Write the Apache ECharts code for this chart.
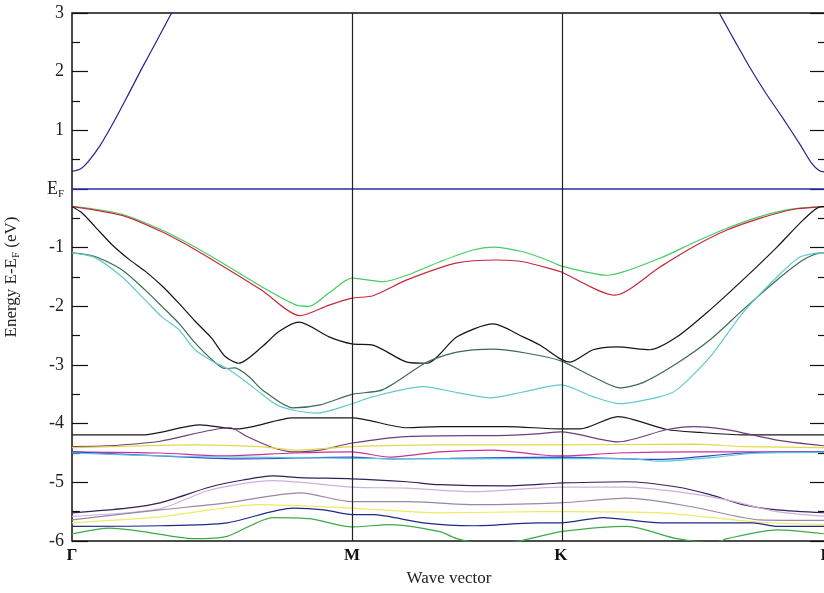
<!DOCTYPE html>
<html>
<head>
<meta charset="utf-8">
<script src="https://cdn.jsdelivr.net/npm/echarts@6/dist/echarts.min.js"></script>
<style>
  html, body { margin: 0; padding: 0; background: #fff; }
  #chart { width: 824px; height: 593px; }
</style>
</head>
<body>
<div id="chart"></div>
<script>
// High-symmetry points along the k-path (path length, Γ–M = 1)
const kPoints = [0, 1, 1.746, 2.693];
const kLabels = ['Γ', 'M', 'K', 'Γ'];

// Energy ticks (eV, relative to the Fermi level)
const energyTicks = [-6, -5, -4, -3, -2, -1, 0, 1, 2, 3];

// Fermi level
const fermi = [[0, 0], [2.693, 0]];

// Conduction band (two branches leaving the plotted window)
const condLeft = [[0, 0.30], [0.03, 0.34], [0.06, 0.48], [0.1, 0.74], [0.15, 1.15], [0.2, 1.6], [0.25, 2.06], [0.3, 2.5], [0.35, 2.95], [0.38, 3.2]];
const condRight = [[2.29, 3.2], [2.32, 2.93], [2.37, 2.5], [2.42, 2.08], [2.48, 1.62], [2.54, 1.2], [2.6, 0.76], [2.64, 0.45], [2.67, 0.31], [2.693, 0.29]];

// Upper valence bands
const vbGreen = [[0, -0.29], [0.179, -0.43], [0.321, -0.70], [0.439, -0.99], [0.561, -1.33], [0.679, -1.67], [0.796, -1.97], [0.846, -2.0], [0.918, -1.77], [1.0, -1.52], [1.111, -1.58], [1.196, -1.47], [1.314, -1.24], [1.432, -1.04], [1.504, -0.99], [1.611, -1.07], [1.696, -1.21], [1.746, -1.31], [1.911, -1.47], [2.1, -1.18], [2.218, -0.92], [2.339, -0.67], [2.457, -0.47], [2.575, -0.34], [2.693, -0.30]];
const vbRed = [[0, -0.30], [0.179, -0.45], [0.321, -0.73], [0.439, -1.03], [0.561, -1.38], [0.679, -1.73], [0.814, -2.16], [0.918, -1.98], [1.0, -1.86], [1.075, -1.82], [1.196, -1.55], [1.375, -1.26], [1.518, -1.21], [1.611, -1.24], [1.732, -1.39], [1.746, -1.41], [1.939, -1.81], [2.1, -1.33], [2.218, -0.99], [2.339, -0.70], [2.457, -0.50], [2.575, -0.35], [2.693, -0.30]];
const vbBlack = [[0, -0.30], [0.036, -0.41], [0.082, -0.64], [0.143, -0.95], [0.204, -1.2], [0.261, -1.4], [0.321, -1.65], [0.382, -1.95], [0.439, -2.25], [0.5, -2.55], [0.546, -2.85], [0.596, -2.97], [0.679, -2.69], [0.739, -2.43], [0.811, -2.27], [0.918, -2.52], [1.0, -2.64], [1.075, -2.66], [1.196, -2.95], [1.268, -2.97], [1.375, -2.52], [1.504, -2.30], [1.611, -2.52], [1.671, -2.66], [1.746, -2.90], [1.779, -2.95], [1.861, -2.74], [1.946, -2.69], [2.064, -2.74], [2.161, -2.52], [2.279, -2.06], [2.396, -1.55], [2.518, -0.99], [2.611, -0.53], [2.675, -0.30], [2.693, -0.30]];
const vbDarkGreen = [[0, -1.09], [0.082, -1.15], [0.179, -1.38], [0.261, -1.72], [0.321, -2.0], [0.382, -2.29], [0.439, -2.62], [0.5, -2.91], [0.546, -3.06], [0.582, -3.05], [0.632, -3.2], [0.679, -3.42], [0.789, -3.73], [0.886, -3.68], [1.0, -3.50], [1.111, -3.42], [1.268, -2.95], [1.375, -2.78], [1.504, -2.73], [1.625, -2.80], [1.746, -2.93], [1.861, -3.2], [1.957, -3.39], [2.039, -3.3], [2.161, -2.97], [2.279, -2.57], [2.396, -2.06], [2.518, -1.55], [2.611, -1.21], [2.675, -1.09], [2.693, -1.09]];
const vbCyan = [[0, -1.09], [0.082, -1.17], [0.179, -1.5], [0.261, -1.89], [0.321, -2.18], [0.382, -2.4], [0.439, -2.74], [0.5, -2.93], [0.561, -3.08], [0.625, -3.3], [0.679, -3.5], [0.732, -3.68], [0.8, -3.78], [0.875, -3.82], [1.0, -3.66], [1.075, -3.54], [1.254, -3.37], [1.375, -3.47], [1.493, -3.56], [1.611, -3.46], [1.746, -3.34], [1.861, -3.54], [1.957, -3.66], [2.1, -3.54], [2.161, -3.42], [2.279, -2.86], [2.396, -2.11], [2.518, -1.5], [2.6, -1.16], [2.675, -1.09], [2.693, -1.09]];

// Flat band group around -4.4 eV
const fbBlack = [[0, -4.19], [0.254, -4.19], [0.457, -4.02], [0.589, -4.09], [0.646, -4.05], [0.789, -3.90], [1.0, -3.90], [1.196, -4.07], [1.314, -4.05], [1.554, -4.05], [1.746, -4.09], [1.814, -4.09], [1.95, -3.88], [2.125, -4.10], [2.243, -4.15], [2.396, -4.19], [2.693, -4.19]];
const fbPurple = [[0, -4.39], [0.125, -4.38], [0.314, -4.30], [0.564, -4.07], [0.625, -4.22], [0.718, -4.41], [0.789, -4.48], [0.886, -4.45], [1.0, -4.33], [1.196, -4.22], [1.554, -4.20], [1.671, -4.17], [1.746, -4.14], [1.95, -4.31], [2.125, -4.10], [2.218, -4.05], [2.339, -4.10], [2.518, -4.28], [2.693, -4.38]];
const fbYellow = [[0, -4.41], [0.432, -4.36], [0.671, -4.39], [0.8, -4.45], [1.0, -4.39], [1.3, -4.36], [1.746, -4.36], [2.218, -4.35], [2.4, -4.39], [2.693, -4.41]];
const fbMagenta = [[0, -4.48], [0.314, -4.50], [0.55, -4.55], [0.789, -4.50], [1.0, -4.48], [1.136, -4.57], [1.314, -4.48], [1.504, -4.45], [1.671, -4.53], [1.746, -4.55], [1.95, -4.50], [2.218, -4.48], [2.693, -4.48]];
const fbBlue = [[0, -4.48], [0.314, -4.55], [0.611, -4.60], [1.0, -4.57], [1.136, -4.60], [1.35, -4.59], [1.746, -4.57], [2.1, -4.61], [2.4, -4.50], [2.693, -4.48]];
const fbCyan = [[0, -4.50], [0.4, -4.56], [0.8, -4.58], [1.0, -4.59], [1.4, -4.60], [1.746, -4.59], [2.0, -4.60], [2.1, -4.64], [2.3, -4.57], [2.45, -4.50], [2.693, -4.49]];

// Lower band group between -5 and -6 eV
const lbIndigo = [[0, -5.52], [0.196, -5.44], [0.314, -5.35], [0.493, -5.08], [0.611, -4.96], [0.718, -4.89], [0.814, -4.92], [1.0, -4.94], [1.196, -4.99], [1.314, -5.04], [1.554, -5.06], [1.718, -5.02], [1.746, -5.01], [1.982, -4.99], [2.161, -5.08], [2.279, -5.21], [2.396, -5.38], [2.518, -5.47], [2.693, -5.52]];
const lbLilac = [[0, -5.58], [0.314, -5.45], [0.493, -5.13], [0.718, -4.97], [1.0, -5.08], [1.196, -5.10], [1.432, -5.16], [1.746, -5.08], [1.982, -5.08], [2.161, -5.16], [2.339, -5.30], [2.518, -5.50], [2.693, -5.58]];
const lbMauve = [[0, -5.64], [0.314, -5.47], [0.554, -5.35], [0.814, -5.18], [1.0, -5.33], [1.196, -5.33], [1.432, -5.38], [1.746, -5.35], [1.982, -5.27], [2.218, -5.42], [2.457, -5.64], [2.693, -5.65]];
const lbYellow = [[0, -5.69], [0.314, -5.59], [0.671, -5.38], [1.0, -5.44], [1.314, -5.52], [1.671, -5.50], [1.746, -5.50], [2.1, -5.52], [2.457, -5.68], [2.693, -5.72]];
const lbBlue = [[0, -5.75], [0.314, -5.74], [0.554, -5.69], [0.789, -5.44], [0.9, -5.47], [1.0, -5.55], [1.075, -5.55], [1.254, -5.69], [1.432, -5.74], [1.671, -5.69], [1.746, -5.69], [1.896, -5.60], [2.1, -5.69], [2.432, -5.69], [2.518, -5.75], [2.693, -5.75]];
const lbGreen = [[0, -5.88], [0.136, -5.78], [0.254, -5.84], [0.432, -5.96], [0.554, -5.92], [0.718, -5.60], [0.85, -5.62], [1.0, -5.76], [1.136, -5.72], [1.314, -5.84], [1.375, -5.96], [1.5, -6.08], [1.636, -5.96], [1.746, -5.84], [1.982, -5.75], [2.161, -5.96], [2.3, -6.03], [2.339, -5.96], [2.518, -5.81], [2.693, -5.88]];

const bands = [
  [condLeft, '#23238f'], [condRight, '#23238f'],
  [vbGreen, '#45cc62'], [vbRed, '#c8283c'], [vbBlack, '#151515'],
  [vbDarkGreen, '#3d6b50'], [vbCyan, '#62c9cf'],
  [fbBlack, '#1c1420'], [fbPurple, '#6b3f7a'], [fbYellow, '#e3d84a'],
  [fbMagenta, '#cc2f95'], [fbBlue, '#3348c8'], [fbCyan, '#55c6e0'],
  [lbIndigo, '#33205a'], [lbLilac, '#cdb1dc'], [lbMauve, '#9a86a6'],
  [lbYellow, '#eeea62'], [lbBlue, '#1f2a86'], [lbGreen, '#3caa48']
];

const serif = '"Liberation Serif", "DejaVu Serif", serif';

const series = bands.map(([data, color]) => ({
  type: 'line',
  data: data,
  showSymbol: false,
  smooth: 0.25,
  clip: true,
  lineStyle: { color: color, width: 1.2 },
  silent: true
}));

series.push({
  type: 'line',
  data: fermi,
  showSymbol: false,
  lineStyle: { color: '#2d2da8', width: 1.3 },
  silent: true,
  markLine: {
    silent: true,
    symbol: 'none',
    label: { show: false },
    lineStyle: { color: '#222', width: 1.2, type: 'solid' },
    data: kPoints.slice(1, 3).map(k => ({ xAxis: k }))
  }
});

function kLabel(v) {
  let best = 0;
  kPoints.forEach((k, i) => { if (Math.abs(k - v) < Math.abs(kPoints[best] - v)) best = i; });
  return kLabels[best];
}

const yTickStyle = {
  inside: true, length: 16, lineStyle: { color: '#111', width: 1.2 }
};
const yMinorStyle = {
  show: true, splitNumber: 2, length: 8, lineStyle: { color: '#111', width: 1.2 }
};

const option = {
  animation: false,
  backgroundColor: '#fff',
  grid: {
    left: 72, top: 13, bottom: 52, right: -2,
    outerBoundsMode: 'none',
    containLabel: false,
    show: true, borderColor: '#111', borderWidth: 1.5, backgroundColor: 'transparent'
  },
  xAxis: {
    type: 'value',
    min: kPoints[0],
    max: kPoints[kPoints.length - 1],
    axisLine: { show: false },
    axisTick: { show: false },
    splitLine: { show: false },
    axisLabel: {
      customValues: kPoints,
      formatter: v => kLabel(v),
      margin: 6,
      color: '#111',
      fontFamily: serif,
      fontWeight: 'bold',
      fontSize: 17
    },
    name: 'Wave vector',
    nameLocation: 'middle',
    nameGap: 29,
    nameTextStyle: { fontFamily: serif, fontSize: 17, color: '#222', verticalAlign: 'top' }
  },
  yAxis: [{
    type: 'value',
    min: energyTicks[0],
    max: energyTicks[energyTicks.length - 1],
    interval: 1,
    axisLine: { show: false },
    axisTick: yTickStyle,
    minorTick: yMinorStyle,
    splitLine: { show: false },
    axisLabel: {
      margin: 8,
      color: '#222',
      fontFamily: serif,
      fontSize: 18,
      formatter: v => (v === 0 ? '{e|E}{f|F}' : String(v)),
      rich: {
        e: { fontFamily: serif, fontSize: 18, color: '#222' },
        f: { fontFamily: serif, fontSize: 11, color: '#222', padding: [10, 0, 0, 0] }
      }
    },
    name: '{t|Energy E-E}{s|F}{t| (eV)}',
    nameLocation: 'middle',
    nameGap: 50,
    nameRotate: 90,
    nameTextStyle: {
      rich: {
        t: { fontFamily: serif, fontSize: 17, color: '#222' },
        s: { fontFamily: serif, fontSize: 11, color: '#222', padding: [10, 0, 0, 0] }
      }
    }
  }, {
    type: 'value',
    position: 'right',
    min: energyTicks[0],
    max: energyTicks[energyTicks.length - 1],
    interval: 1,
    axisLine: { show: false },
    axisTick: yTickStyle,
    minorTick: yMinorStyle,
    splitLine: { show: false },
    axisLabel: { show: false }
  }],
  series: series
};

echarts.init(document.getElementById('chart'), null, { renderer: 'canvas' }).setOption(option);
</script>
</body>
</html>
